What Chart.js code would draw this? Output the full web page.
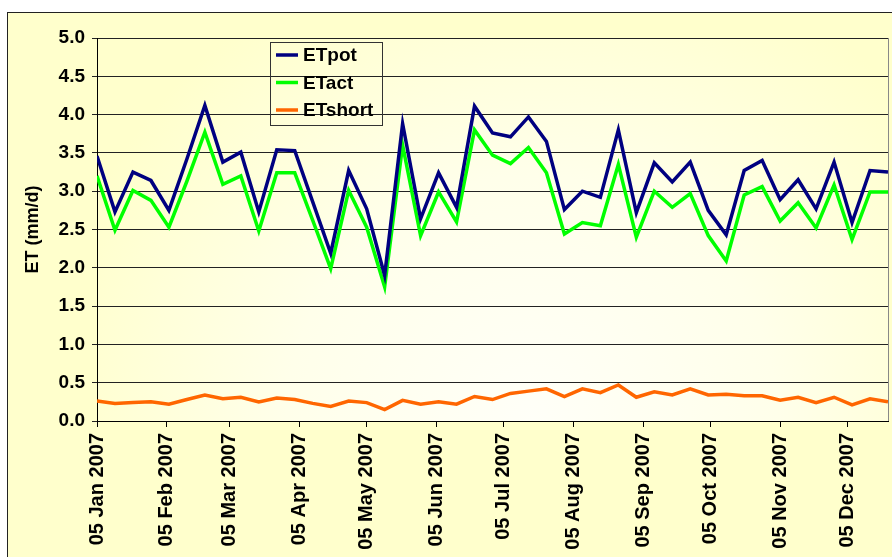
<!DOCTYPE html>
<html>
<head>
<meta charset="utf-8">
<script src="https://cdn.jsdelivr.net/npm/chart.js@4.4.1/dist/chart.umd.min.js"></script>
<style>
  body { margin: 0; background: #fff; }
  #wrap { width: 892px; height: 557px; position: relative; }
</style>
</head>
<body>
<div id="wrap"><canvas id="et-chart"></canvas></div>
<script>
// 8-day periods, 2007
var dates = [
  '2007-01-05', '2007-01-13', '2007-01-21', '2007-01-29', '2007-02-06', '2007-02-14', '2007-02-22',
  '2007-03-02', '2007-03-10', '2007-03-18', '2007-03-26', '2007-04-03', '2007-04-11', '2007-04-19',
  '2007-04-27', '2007-05-05', '2007-05-13', '2007-05-21', '2007-05-29', '2007-06-06', '2007-06-14',
  '2007-06-22', '2007-06-30', '2007-07-08', '2007-07-16', '2007-07-24', '2007-08-01', '2007-08-09',
  '2007-08-17', '2007-08-25', '2007-09-02', '2007-09-10', '2007-09-18', '2007-09-26', '2007-10-04',
  '2007-10-12', '2007-10-20', '2007-10-28', '2007-11-05', '2007-11-13', '2007-11-21', '2007-11-29',
  '2007-12-07', '2007-12-15', '2007-12-23'
];

var etPot = [3.46, 2.73, 3.25, 3.14, 2.75, 3.42, 4.12, 3.38, 3.51, 2.73, 3.54, 3.53, 2.86, 2.19, 3.27,
  2.77, 1.90, 3.88, 2.64, 3.24, 2.79, 4.11, 3.76, 3.71, 3.97, 3.65, 2.76, 3.00, 2.92, 3.80,
  2.72, 3.37, 3.12, 3.38, 2.75, 2.43, 3.27, 3.40, 2.89, 3.15, 2.77, 3.38, 2.59, 3.27, 3.25];

var etAct = [3.20, 2.49, 3.01, 2.88, 2.53, 3.13, 3.77, 3.09, 3.20, 2.48, 3.24, 3.24, 2.62, 1.99, 3.01,
  2.53, 1.75, 3.60, 2.42, 2.99, 2.60, 3.80, 3.47, 3.36, 3.57, 3.24, 2.44, 2.59, 2.55, 3.35,
  2.40, 3.00, 2.79, 2.97, 2.42, 2.09, 2.95, 3.06, 2.61, 2.85, 2.52, 3.08, 2.37, 2.99, 2.99];

var etShort = [0.26, 0.23, 0.24, 0.25, 0.22, 0.28, 0.34, 0.29, 0.31, 0.25, 0.30, 0.28, 0.23, 0.19, 0.26,
  0.24, 0.15, 0.27, 0.22, 0.25, 0.22, 0.32, 0.28, 0.36, 0.39, 0.42, 0.32, 0.42, 0.37, 0.47,
  0.31, 0.38, 0.34, 0.42, 0.34, 0.35, 0.33, 0.33, 0.27, 0.31, 0.24, 0.31, 0.21, 0.29, 0.25];

var tickDates = ['2007-01-05', '2007-02-05', '2007-03-05', '2007-04-05', '2007-05-05', '2007-06-05',
  '2007-07-05', '2007-08-05', '2007-09-05', '2007-10-05', '2007-11-05', '2007-12-05'];
var tickLabels = ['05 Jan 2007', '05 Feb 2007', '05 Mar 2007', '05 Apr 2007', '05 May 2007', '05 Jun 2007',
  '05 Jul 2007', '05 Aug 2007', '05 Sep 2007', '05 Oct 2007', '05 Nov 2007', '05 Dec 2007'];

// days since first date
function dayNo(s) {
  return (Date.parse(s) - Date.parse(dates[0])) / 86400000;
}

function points(vals) {
  return vals.map(function (v, i) {
    return { x: dayNo(dates[i]), y: v };
  });
}

var FONT = '"Liberation Sans", Arial, sans-serif';

// yellow chart background, plot gradient, border and legend box
var frame = {
  id: 'frame',
  beforeDraw: function (chart) {
    var ctx = chart.ctx, a = chart.chartArea;
    ctx.save();
    ctx.fillStyle = '#fff';
    ctx.fillRect(0, 0, chart.width, chart.height);
    ctx.fillStyle = '#FFFFCC';
    ctx.fillRect(7, 12, chart.width, chart.height);
    ctx.strokeStyle = '#222';
    ctx.lineWidth = 1;
    ctx.strokeRect(7.5, 12.5, chart.width + 20, chart.height + 20);

    var cx = a.left + (a.right - a.left) * 0.55;
    var g = ctx.createRadialGradient(cx, a.bottom, 0, cx, a.bottom, (a.right - a.left) * 0.62);
    g.addColorStop(0, '#FFFFF8');
    g.addColorStop(0.5, '#FFFFEA');
    g.addColorStop(1, '#FFFFCC');
    ctx.fillStyle = g;
    ctx.fillRect(a.left, a.top, a.right - a.left, a.bottom - a.top);
    ctx.restore();
  },
  afterDraw: function (chart) {
    var ctx = chart.ctx, a = chart.chartArea;
    ctx.save();
    // right edge of plot
    ctx.strokeStyle = '#888';
    ctx.lineWidth = 1;
    ctx.beginPath();
    ctx.moveTo(Math.round(a.right) + 0.5, a.top);
    ctx.lineTo(Math.round(a.right) + 0.5, a.bottom);
    ctx.stroke();

    // legend
    var bx = 270.5, by = 42.5, bw = 112, bh = 83;
    ctx.strokeStyle = '#333';
    ctx.lineWidth = 1;
    ctx.strokeRect(bx, by, bw, bh);
    ctx.font = 'bold 19px ' + FONT;
    ctx.textBaseline = 'middle';
    ctx.fillStyle = '#000';
    chart.data.datasets.forEach(function (ds, i) {
      var y = 55 + i * 27.5;
      ctx.strokeStyle = ds.borderColor;
      ctx.lineWidth = 3.5;
      ctx.beginPath();
      ctx.moveTo(276, y);
      ctx.lineTo(298, y);
      ctx.stroke();
      ctx.fillText(ds.label, 303, y + 1);
    });
    ctx.restore();
  }
};

var ctx = document.getElementById('et-chart').getContext('2d');
var chart = new Chart(ctx, {
  type: 'line',
  data: {
    datasets: [
      { label: 'ETpot', data: points(etPot), borderColor: '#000080', borderWidth: 3.5, pointRadius: 0, tension: 0 },
      { label: 'ETact', data: points(etAct), borderColor: '#00FF00', borderWidth: 3.5, pointRadius: 0, tension: 0 },
      { label: 'ETshort', data: points(etShort), borderColor: '#FF6600', borderWidth: 3.5, pointRadius: 0, tension: 0 }
    ]
  },
  options: {
    responsive: true,
    maintainAspectRatio: false,
    animation: false,
    layout: { padding: { top: 38, right: 4, left: 0, bottom: 0 } },
    plugins: {
      legend: { display: false },
      tooltip: { enabled: false }
    },
    scales: {
      x: {
        type: 'linear',
        min: 0,
        max: dayNo(dates[dates.length - 1]),
        afterBuildTicks: function (scale) {
          scale.ticks = tickDates.map(function (d) { return { value: dayNo(d) }; });
        },
        afterFit: function (scale) { scale.height = 557 - 421; },
        grid: { drawOnChartArea: false, drawTicks: true, tickLength: 6, color: '#000' },
        border: { color: '#000', width: 1 },
        ticks: {
          autoSkip: false,
          minRotation: 90,
          maxRotation: 90,
          padding: 6,
          color: '#000',
          font: { family: FONT, size: 20, weight: 'bold' },
          callback: function (v) {
            var i = tickDates.findIndex(function (d) { return dayNo(d) === v; });
            return i < 0 ? '' : tickLabels[i];
          }
        }
      },
      y: {
        min: 0,
        max: 5,
        afterFit: function (scale) { scale.width = 97; },
        grid: { color: '#222', lineWidth: 1, tickLength: 5 },
        border: { color: '#000', width: 1 },
        ticks: {
          stepSize: 0.5,
          padding: 7,
          color: '#000',
          font: { family: FONT, size: 19, weight: 'bold' },
          callback: function (v) { return v.toFixed(1); }
        },
        title: {
          display: true,
          text: 'ET (mm/d)',
          color: '#000',
          padding: { top: 22, bottom: 0 },
          font: { family: FONT, size: 18, weight: 'bold' }
        }
      }
    }
  },
  plugins: [frame]
});
</script>
</body>
</html>
